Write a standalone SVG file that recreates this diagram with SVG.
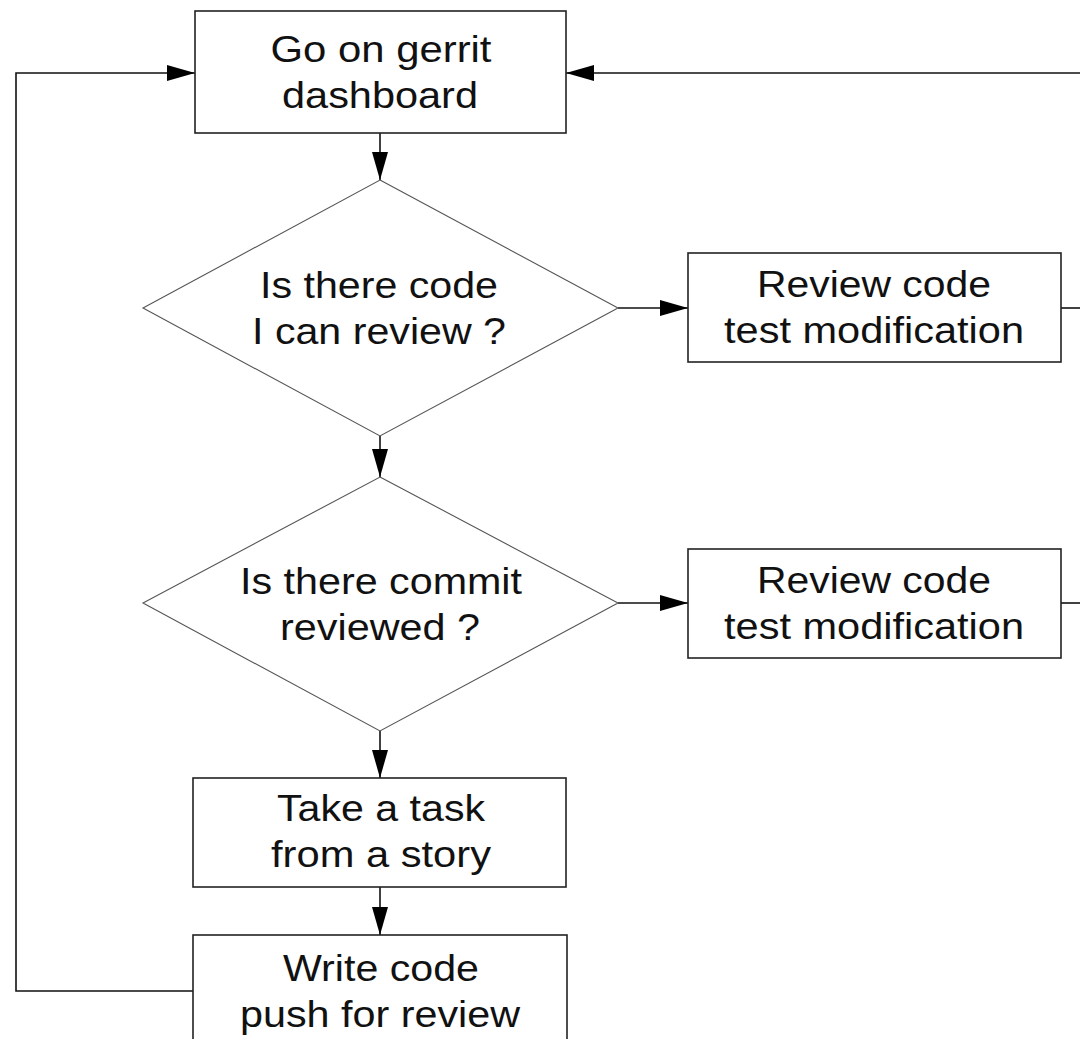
<svg xmlns="http://www.w3.org/2000/svg" width="1080" height="1039" viewBox="0 0 1080 1039">
<style>
.box{fill:#fff;stroke:#222;stroke-width:1.6}
.dia{fill:#fff;stroke:#555;stroke-width:1.1}
.edge{fill:none;stroke:#111;stroke-width:1.6}
text{font-family:"Liberation Sans",Arial,sans-serif;font-size:36px;fill:#111;text-anchor:middle}
</style>
<defs>
<marker id="arr" viewBox="0 0 28 16" refX="28" refY="8" markerWidth="28" markerHeight="16" markerUnits="userSpaceOnUse" orient="auto">
<path d="M0,0 L28,8 L0,16 z" fill="#000"/>
</marker>
</defs>
<rect width="1080" height="1039" fill="#fff"/>
<g id="connectors">
<line class="edge" x1="380" y1="133" x2="380" y2="180" marker-end="url(#arr)"/>
<line class="edge" x1="618" y1="308" x2="688" y2="308" marker-end="url(#arr)"/>
<line class="edge" x1="380" y1="436" x2="380" y2="477" marker-end="url(#arr)"/>
<line class="edge" x1="618" y1="603" x2="688" y2="603" marker-end="url(#arr)"/>
<line class="edge" x1="380" y1="731" x2="380" y2="778" marker-end="url(#arr)"/>
<line class="edge" x1="380" y1="887" x2="380" y2="935" marker-end="url(#arr)"/>
<polyline class="edge" points="193,991 16,991 16,73 195,73" marker-end="url(#arr)"/>
<line class="edge" x1="1082" y1="73" x2="566" y2="73" marker-end="url(#arr)"/>
<line class="edge" x1="1061" y1="308" x2="1082" y2="308"/>
<line class="edge" x1="1061" y1="603" x2="1082" y2="603"/>
</g>
<g id="n1">
<rect class="box" x="195" y="11" width="371" height="122"/>
<text x="381" y="62" textLength="221" lengthAdjust="spacingAndGlyphs">Go on gerrit</text>
<text x="380" y="108" textLength="196" lengthAdjust="spacingAndGlyphs">dashboard</text>
</g>
<g id="n2">
<polygon class="dia" points="380,180 618,308 380,436 143,308"/>
<text x="379" y="298" textLength="238" lengthAdjust="spacingAndGlyphs">Is there code</text>
<text x="379" y="344" textLength="254" lengthAdjust="spacingAndGlyphs">I can review ?</text>
</g>
<g id="n3">
<rect class="box" x="688" y="253" width="373" height="109"/>
<text x="874" y="297" textLength="234" lengthAdjust="spacingAndGlyphs">Review code</text>
<text x="874" y="343" textLength="300" lengthAdjust="spacingAndGlyphs">test modification</text>
</g>
<g id="n4">
<polygon class="dia" points="380,477 618,603 380,731 143,603"/>
<text x="381" y="594" textLength="282" lengthAdjust="spacingAndGlyphs">Is there commit</text>
<text x="380" y="640" textLength="200" lengthAdjust="spacingAndGlyphs">reviewed ?</text>
</g>
<g id="n5">
<rect class="box" x="688" y="549" width="373" height="109"/>
<text x="874" y="593" textLength="234" lengthAdjust="spacingAndGlyphs">Review code</text>
<text x="874" y="639" textLength="300" lengthAdjust="spacingAndGlyphs">test modification</text>
</g>
<g id="n6">
<rect class="box" x="193" y="778" width="373" height="109"/>
<text x="381" y="821" textLength="208" lengthAdjust="spacingAndGlyphs">Take a task</text>
<text x="381" y="867" textLength="220" lengthAdjust="spacingAndGlyphs">from a story</text>
</g>
<g id="n7">
<rect class="box" x="193" y="935" width="374" height="115"/>
<text x="381" y="981" textLength="196" lengthAdjust="spacingAndGlyphs">Write code</text>
<text x="380" y="1027" textLength="280" lengthAdjust="spacingAndGlyphs">push for review</text>
</g>
</svg>
